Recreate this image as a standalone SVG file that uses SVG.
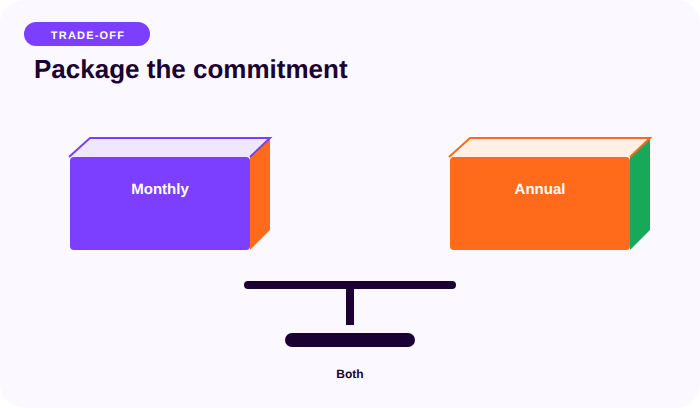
<svg xmlns="http://www.w3.org/2000/svg" width="700" height="408" viewBox="0 0 700 408">
  <style>
    text { font-family: "Liberation Sans", Arial, sans-serif; font-weight: 700; text-anchor: middle; text-rendering: geometricPrecision; }
    .label { font-size: 15px; fill: #ffffff; }
    .dark { fill: #1a0033; }
    .rim { fill: none; stroke-width: 2; stroke-linejoin: miter; }
  </style>
  <rect width="700" height="408" fill="#ffffff"/>
  <rect x="0" y="0" width="700" height="408" rx="24" fill="#fbf9ff"/>

  <g id="tag">
    <rect x="24" y="22" width="126" height="24" rx="12" fill="#7c3fff"/>
    <text x="88" y="39" font-size="11" letter-spacing="1.2" fill="#ffffff">TRADE-OFF</text>
  </g>
  <text id="title" x="34" y="78" font-size="26" class="dark" style="text-anchor:start">Package the commitment</text>

  <g id="monthly">
    <polygon points="250,157 270,138 270,230 250,250" fill="#ff6b1a"/>
    <polygon points="70,157 90,138 270,138 250,157" fill="#efe8fd"/>
    <polyline class="rim" points="69,157 90,138 270,138 250,157" stroke="#7c3fff"/>
    <rect x="70" y="157" width="180" height="93" rx="4" fill="#7c3fff"/>
    <text class="label" x="160" y="194">Monthly</text>
  </g>

  <g id="annual">
    <polygon points="630,157 650,138 650,230 630,250" fill="#18a85a"/>
    <polygon points="450,157 470,138 650,138 630,157" fill="#fff0e3"/>
    <polyline class="rim" points="449,157 470,138 650,138 630,157" stroke="#ff6b1a"/>
    <rect x="450" y="157" width="180" height="93" rx="4" fill="#ff6b1a"/>
    <text class="label" x="540" y="194">Annual</text>
  </g>

  <g id="both">
    <rect class="dark" x="244" y="281" width="212" height="8" rx="4"/>
    <rect class="dark" x="346" y="289" width="8" height="36"/>
    <rect class="dark" x="285" y="333" width="130" height="14" rx="7"/>
    <text class="dark" x="350" y="378" font-size="12">Both</text>
  </g>
</svg>
